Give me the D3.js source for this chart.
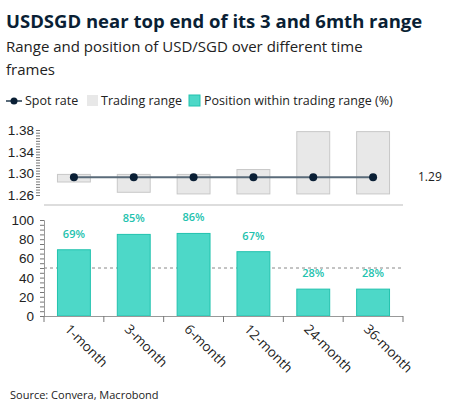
<!DOCTYPE html>
<html><head><meta charset="utf-8">
<script src="https://cdn.jsdelivr.net/npm/d3@7"></script>
<style>body{margin:0;background:#fff;font-family:"Open Sans",sans-serif;}</style>
</head><body><div id="chart"></div>
<script>
const categories = ["1-month","3-month","6-month","12-month","24-month","36-month"]
const rangeLow = [1.284,1.265,1.262,1.262,1.262,1.262]
const rangeHigh = [1.298,1.298,1.298,1.307,1.377,1.377]
const spot = [1.293,1.293,1.293,1.293,1.293,1.293]
const position = [69,85,86,67,28,28]
const topTicks = [1.26,1.30,1.34,1.38]
const botTicks = [0,20,40,60,80,100]

const W = 454, H = 416
const svg = d3.select("#chart").append("svg").attr("width", W).attr("height", H)
const navy = "#0a1f35", teal = "#4dd8c8", tealDark = "#22c2ae"

svg.append("text").attr("x", 6).attr("y", 28).attr("font-size", 18.5).attr("font-weight", 700).attr("fill", "#0a1f35")
	.text("USDSGD near top end of its 3 and 6mth range")
svg.append("text").attr("x", 6).attr("y", 52).attr("font-size", 15).attr("fill", "#222").text("Range and position of USD/SGD over different time")
svg.append("text").attr("x", 6).attr("y", 75).attr("font-size", 15).attr("fill", "#222").text("frames")

// legend
const lg = svg.append("g").attr("font-size", 12.5).attr("fill", "#222")
lg.append("line").attr("x1", 6).attr("x2", 22).attr("y1", 101).attr("y2", 101).attr("stroke", "#5a6b7a").attr("stroke-width", 2)
lg.append("circle").attr("cx", 14).attr("cy", 101).attr("r", 3.5).attr("fill", navy)
lg.append("text").attr("x", 25).attr("y", 105).text("Spot rate")
lg.append("rect").attr("x", 87).attr("y", 95).attr("width", 11).attr("height", 11).attr("fill", "#e8e8e8")
lg.append("text").attr("x", 101).attr("y", 105).text("Trading range")
lg.append("rect").attr("x", 189).attr("y", 95).attr("width", 11).attr("height", 11).attr("fill", teal).attr("stroke", tealDark)
lg.append("text").attr("x", 204).attr("y", 105).text("Position within trading range (%)")

const x = d3.scaleBand().domain(categories).range([44, 403]).paddingInner(0.45).paddingOuter(0.225)
const yT = d3.scaleLinear().domain([1.26, 1.38]).range([195, 130])
const yB = d3.scaleLinear().domain([0, 100]).range([316, 220])

// top axis
const gT = svg.append("g").attr("transform", "translate(40,0)")
gT.call(d3.axisLeft(yT).tickValues(d3.range(1.26, 1.3801, 0.005)).tickSize(4).tickFormat(""))
gT.call(g => g.select(".domain").remove())
gT.selectAll("line").attr("stroke", "#777")
topTicks.forEach(t => gT.append("text").attr("x", -6).attr("y", yT(t) + 5).attr("text-anchor", "end")
	.attr("font-size", 13.5).attr("fill", "#222").text(t.toFixed(2)))

svg.selectAll("rect.range").data(categories).join("rect").attr("class", "range")
	.attr("x", d => x(d)).attr("width", x.bandwidth())
	.attr("y", (d, i) => yT(rangeHigh[i])).attr("height", (d, i) => yT(rangeLow[i]) - yT(rangeHigh[i]))
	.attr("fill", "#e8e8e8").attr("stroke", "#c8c8c8")

svg.append("path").datum(categories)
	.attr("d", d3.line().x(d => x(d) + x.bandwidth() / 2).y((d, i) => yT(spot[i])))
	.attr("fill", "none").attr("stroke", "#5a6b7a").attr("stroke-width", 2)
svg.selectAll("circle.spot").data(categories).join("circle").attr("class", "spot")
	.attr("cx", d => x(d) + x.bandwidth() / 2).attr("cy", (d, i) => yT(spot[i])).attr("r", 4).attr("fill", navy)
svg.append("text").attr("x", 418).attr("y", yT(spot[5]) + 4).attr("font-size", 12).attr("fill", "#222").text("1.29")

svg.append("line").attr("x1", 44).attr("x2", 403).attr("y1", 205).attr("y2", 205).attr("stroke", "#ddd").attr("stroke-width", 2)

// bottom axis
const gB = svg.append("g").attr("transform", "translate(44,0)")
gB.call(d3.axisLeft(yB).tickValues(d3.range(0, 101, 5)).tickSize(4).tickFormat(""))
gB.selectAll("line").attr("stroke", "#777")
gB.select(".domain").attr("stroke", "#999")
botTicks.forEach(t => gB.append("text").attr("x", -10).attr("y", yB(t) + 5).attr("text-anchor", "end")
	.attr("font-size", 13.5).attr("fill", "#222").text(t))

svg.append("line").attr("x1", 44).attr("x2", 403).attr("y1", yB(50)).attr("y2", yB(50))
	.attr("stroke", "#888").attr("stroke-dasharray", "3,3")

svg.selectAll("rect.pos").data(categories).join("rect").attr("class", "pos")
	.attr("x", d => x(d)).attr("width", x.bandwidth())
	.attr("y", (d, i) => yB(position[i])).attr("height", (d, i) => yB(0) - yB(position[i]))
	.attr("fill", teal).attr("stroke", tealDark)
svg.selectAll("text.lab").data(categories).join("text").attr("class", "lab")
	.attr("x", d => x(d) + x.bandwidth() / 2).attr("y", (d, i) => yB(position[i]) - 12)
	.attr("text-anchor", "middle").attr("font-size", 11).attr("font-weight", 600).attr("fill", tealDark)
	.text((d, i) => position[i] + "%")

// x axis
const step = (403 - 44) / categories.length
svg.append("line").attr("x1", 44).attr("x2", 403).attr("y1", 316.5).attr("y2", 316.5).attr("stroke", "#999")
d3.range(categories.length + 1).forEach(i => svg.append("line")
	.attr("x1", 44 + i * step).attr("x2", 44 + i * step).attr("y1", 316).attr("y2", 322).attr("stroke", "#777"))
svg.selectAll("text.cat").data(categories).join("text").attr("class", "cat")
	.attr("transform", d => `translate(${x(d) + x.bandwidth() / 2 - 10},${330}) rotate(45)`)
	.attr("font-size", 13.5).attr("fill", "#222").text(d => d)

svg.append("text").attr("x", 10).attr("y", 399).attr("font-size", 11).attr("fill", "#222").text("Source: Convera, Macrobond")
</script></body></html>
